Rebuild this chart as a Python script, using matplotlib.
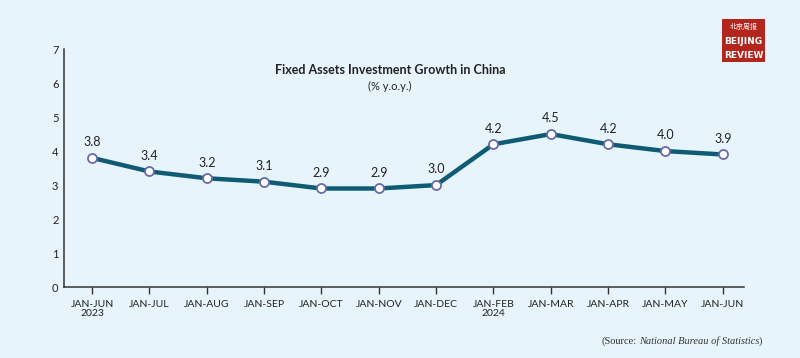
import matplotlib
matplotlib.use('Agg')
import matplotlib.pyplot as plt
from matplotlib.patches import Rectangle

periods = ['JAN-JUN\n2023', 'JAN-JUL', 'JAN-AUG', 'JAN-SEP', 'JAN-OCT', 'JAN-NOV',
           'JAN-DEC', 'JAN-FEB\n2024', 'JAN-MAR', 'JAN-APR', 'JAN-MAY', 'JAN-JUN']
growth = [3.8, 3.4, 3.2, 3.1, 2.9, 2.9, 3.0, 4.2, 4.5, 4.2, 4.0, 3.9]
y_ticks = [0, 1, 2, 3, 4, 5, 6, 7]

bg = '#E8F4FC'
line_col = '#0F5B74'
edge_col = '#6A6AA6'
text_col = '#222222'

plt.rcParams['font.family'] = ['Lato', 'DejaVu Sans']

fig = plt.figure(figsize=(8, 3.58), dpi=100, facecolor=bg)
ax = fig.add_axes([0.08, 0.198, 0.85, 0.665])
ax.set_facecolor(bg)

x = list(range(len(periods)))
ax.plot(x, growth, color=line_col, linewidth=3.2, zorder=2)
ax.plot(x, growth, linestyle='none', marker='o', markersize=6.5,
        markerfacecolor='white', markeredgecolor=edge_col, markeredgewidth=1.3, zorder=3)

for xi, v in zip(x, growth):
    ax.annotate('%.1f' % v, (xi, v), xytext=(0, 7), textcoords='offset points',
                ha='center', va='bottom', fontsize=9, color=text_col)

ax.set_xlim(-0.49, 11.37)
ax.set_ylim(0, 7)
ax.set_xticks(x)
ax.set_xticklabels(periods, fontsize=7.5, color=text_col, linespacing=1.1)
ax.set_yticks(y_ticks)
ax.set_yticklabels([str(t) for t in y_ticks], fontsize=8, color=text_col)
ax.tick_params(axis='y', length=0, pad=4)
ax.tick_params(axis='x', length=5, width=1, color='#333333', pad=4)

for s in ['top', 'right']:
    ax.spines[s].set_visible(False)
for s in ['left', 'bottom']:
    ax.spines[s].set_color('#333333')
    ax.spines[s].set_linewidth(1.1)

fig.text(0.4875, 0.804, 'Fixed Assets Investment Growth in China', ha='center', va='center',
         fontsize=9, fontweight='bold', color=text_col)
fig.text(0.4875, 0.758, '(% y.o.y.)', ha='center', va='center', fontsize=8, color=text_col)

# source line, built right to left
t3 = fig.text(0.953, 0.04, ')', ha='right', va='baseline', fontsize=7.5,
              family='Liberation Serif', color='#333333')
t2 = ax.annotate('National Bureau of Statistics', xy=(0, 0), xycoords=t3, ha='right',
                 va='bottom', fontsize=7.5, family='Liberation Serif', style='italic',
                 color='#333333', annotation_clip=False)
t1 = ax.annotate('(Source:', xy=(0, 0), xycoords=t2, xytext=(-1.5, 0),
                 textcoords='offset points', ha='right', va='bottom',
                 fontsize=7.5, family='Liberation Serif', color='#333333',
                 annotation_clip=False)

# logo
fig.patches.append(Rectangle((0.9025, 0.827), 0.054, 0.12, transform=fig.transFigure,
                             facecolor='#B3261E', edgecolor='none'))
fig.text(0.9295, 0.926, '北京周报', ha='center', va='center', fontsize=5, color='white',
         family=['Noto Sans CJK SC', 'DejaVu Sans'])
fig.text(0.9295, 0.884, 'BEIJING', ha='center', va='center', fontsize=6.5, color='white',
         fontweight='bold', family='DejaVu Sans Condensed')
fig.text(0.9295, 0.846, 'REVIEW', ha='center', va='center', fontsize=6.5, color='white',
         fontweight='bold', family='DejaVu Sans Condensed')

fig.savefig('out.png', dpi=100, facecolor=bg)
